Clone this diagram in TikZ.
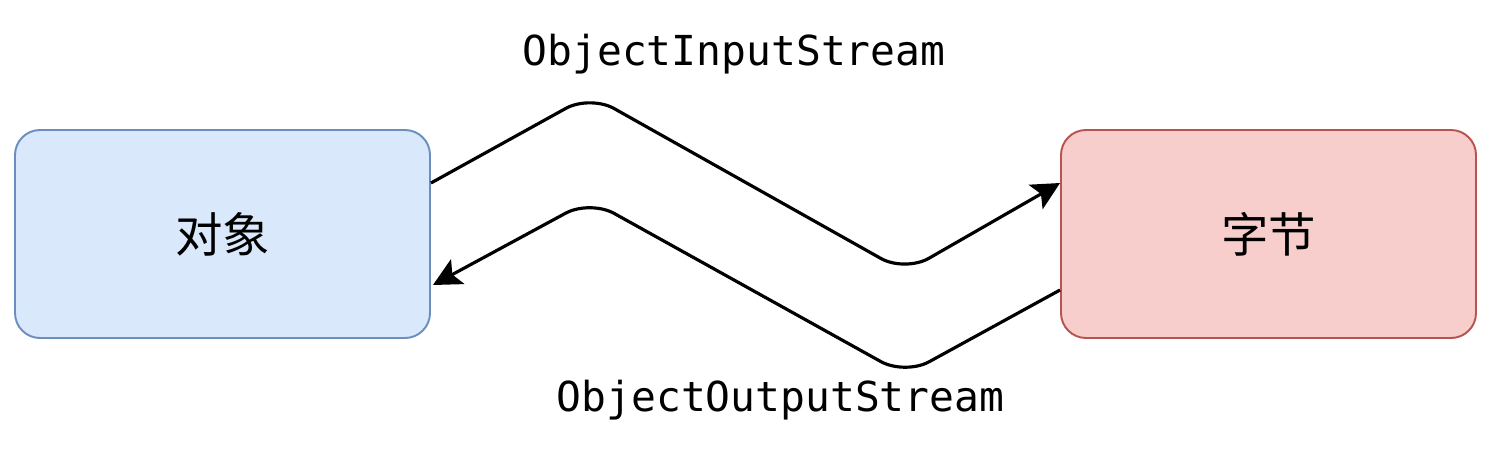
\documentclass[tikz,border=0pt]{standalone}
\usepackage{fontspec}
\setmonofont{DejaVu Sans Mono}
\newfontfamily\cjk{Noto Sans CJK SC}
\usepackage{xcolor}
\usetikzlibrary{arrows.meta}
\definecolor{boxblue}{HTML}{DAE8FC}
\definecolor{lineblue}{HTML}{6C8EBF}
\definecolor{boxred}{HTML}{F8CECC}
\definecolor{linered}{HTML}{B85450}
\tikzset{
  box/.style={rounded corners=0.5cm, line width=1.1pt, minimum width=8.3cm,
    minimum height=4.16cm, font=\cjk\fontsize{27}{30}\selectfont},
  flow/.style={line width=1.8pt, rounded corners=0.55cm,
    -{Stealth[length=0.56cm, width=0.56cm, inset=0.12cm]}},
  lab/.style={font=\ttfamily\fontsize{23.5}{26}\selectfont}
}
\begin{document}
\begin{tikzpicture}
\useasboundingbox (0,0) rectangle (29.88,9.34);
% 两个框
\node[box, draw=lineblue, fill=boxblue] (obj) at (4.45,4.66) {对象};
\node[box, draw=linered, fill=boxred] (byte) at (25.37,4.66) {字节};
% 上面一条的拐点
\coordinate (Ptop) at (11.8,7.44);
\coordinate (Vtop) at (18.1,3.9);
% 下面一条的拐点
\coordinate (Pbot) at (11.8,5.34);
\coordinate (Vbot) at (18.1,1.84);
\draw[flow] ([yshift=1.02cm]obj.east) -- (Ptop) -- (Vtop) -- ([yshift=1.02cm]byte.west);
\draw[flow] ([yshift=-1.12cm]byte.west) -- (Vbot) -- (Pbot) -- ([xshift=0.04cm,yshift=-1.02cm]obj.east);
% 文字
\node[lab] (inlab) at (14.68,8.26) {ObjectInputStream};
\node[lab] (outlab) at (15.61,1.34) {ObjectOutputStream};
\end{tikzpicture}
\end{document}
